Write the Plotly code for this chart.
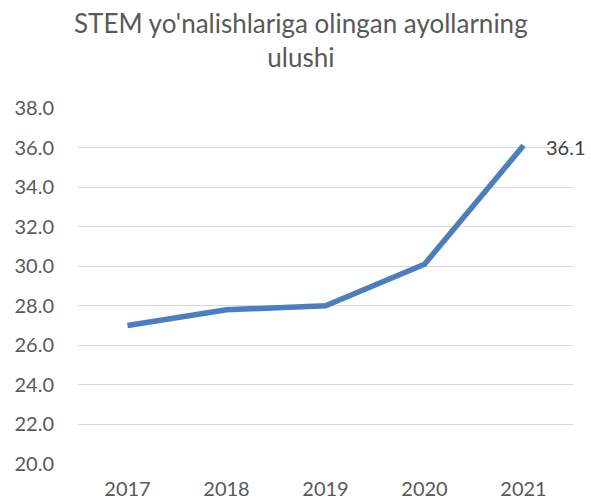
import plotly.graph_objects as go

years = ["2017", "2018", "2019", "2020", "2021"]
share = [27.0, 27.8, 28.0, 30.1, 36.1]
title_text = "STEM yo'nalishlariga olingan ayollarning<br>ulushi"
y_ticks = [20, 22, 24, 26, 28, 30, 32, 34, 36, 38]

FONT = "Lato"
GRAY = "#595959"
LINE = "#4A7EBE"

fig = go.Figure()
fig.add_trace(go.Scatter(
    x=years, y=share,
    mode="lines",
    line=dict(color=LINE, width=5.5),
    hoverinfo="skip",
))

fig.add_annotation(
    x=len(years) - 1, y=share[-1], xref="x", yref="y",
    text=f"{share[-1]:.1f}", showarrow=False,
    xanchor="left", yanchor="middle", xshift=20, yshift=-1,
    font=dict(family=FONT, size=20, color="#404040"),
)
fig.add_annotation(
    x=0.45, y=1.191, xref="paper", yref="paper",
    text=title_text, showarrow=False,
    xanchor="center", yanchor="middle",
    font=dict(family=FONT, size=26, color=GRAY),
)

fig.update_layout(
    width=591, height=502,
    paper_bgcolor="white", plot_bgcolor="white",
    margin=dict(l=78, r=18, t=108, b=38, autoexpand=False),
    showlegend=False,
    font=dict(family=FONT, color=GRAY),
)
fig.update_xaxes(
    type="category", range=[-0.5, 4.5],
    showgrid=False, showline=False, zeroline=False,
    ticks="", tickfont=dict(family=FONT, size=20, color=GRAY),
    ticklabelstandoff=11,
)
fig.update_yaxes(
    range=[20, 38], tickvals=y_ticks, tickformat=".1f",
    showgrid=True, gridcolor="#D9D9D9", gridwidth=1.3,
    showline=False, zeroline=False,
    ticks="", tickfont=dict(family=FONT, size=20, color=GRAY),
    ticklabelstandoff=23,
)

fig.write_html(
    "out.html",
    config={"displayModeBar": False},
    post_script="document.body.style.margin='0';document.body.style.overflow='hidden';",
)
